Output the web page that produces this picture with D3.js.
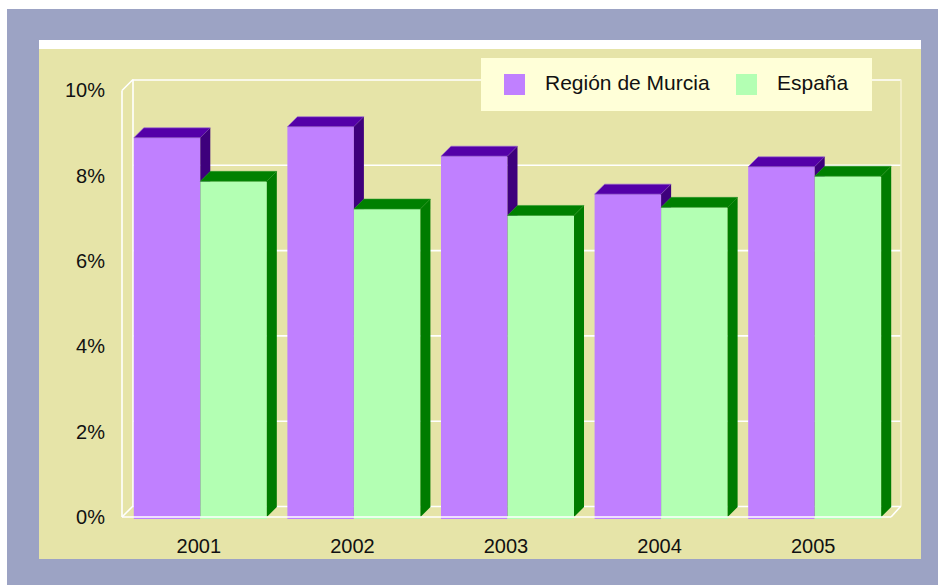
<!DOCTYPE html>
<html>
<head>
<meta charset="utf-8">
<script src="https://cdn.jsdelivr.net/npm/d3@7"></script>
<style>
  html, body { margin: 0; padding: 0; background: #ffffff; }
  svg { display: block; }
  text { font-family: "Liberation Sans", Arial, sans-serif; fill: #111; }
</style>
</head>
<body>
<script>
// ---- data ----
const categories = ["2001", "2002", "2003", "2004", "2005"];
const seriesNames = ["Región de Murcia", "España"];
const murcia = [8.89, 9.15, 8.46, 7.57, 8.21];
const espana = [7.87, 7.22, 7.07, 7.26, 7.99];
const yTicks = [0, 2, 4, 6, 8, 10];

const seriesValues = [murcia, espana];
const frontColors = ["#c080ff", "#b3ffb3"];
const topColors = ["#5400a8", "#008000"];
const sideColors = ["#3e007c", "#007c00"];
const edgeColors = ["#9a66d6", "#2f9a2f"];

const W = 938, H = 585;
const svg = d3.select("body").append("svg").attr("width", W).attr("height", H);

// backgrounds
svg.append("rect").attr("x", 7).attr("y", 9).attr("width", W - 7).attr("height", H - 9).attr("fill", "#9ca3c4");
svg.append("rect").attr("x", 39).attr("y", 40).attr("width", 882).attr("height", 519).attr("fill", "#e6e4a8");
svg.append("rect").attr("x", 39).attr("y", 40).attr("width", 882).attr("height", 9).attr("fill", "#ffffff");

// geometry
const frontLeft = 122, frontRight = 891, frontBottom = 517, frontTop = 90.5;
const depth = 11, barDepth = 10;
const yFront = d3.scaleLinear().domain([0, 10]).range([frontBottom, frontTop]);
const yBack = v => yFront(v) - depth;
const x = d3.scaleBand().domain(categories).range([123.5, 891.5]).paddingInner(0.134).paddingOuter(0.067);
const xs = d3.scaleBand().domain(seriesNames).range([0, x.bandwidth()]);

const bx0 = frontLeft + depth, bx1 = frontRight + 10;

// back wall gridlines
const gridAxis = d3.axisLeft(yFront).tickValues(yTicks).tickSize(-(bx1 - bx0)).tickFormat("");
const gridG = svg.append("g").attr("transform", `translate(${bx0},${-depth})`).call(gridAxis);
gridG.select(".domain").remove();
gridG.selectAll("line").attr("stroke", "#ffffff").attr("stroke-width", 1.6);

// back frame
const back = svg.append("g").attr("stroke", "#ffffff").attr("stroke-width", 1.6).attr("fill", "none");
back.append("line").attr("x1", bx0).attr("x2", bx0).attr("y1", yBack(10)).attr("y2", yBack(0));
back.append("line").attr("x1", bx1).attr("x2", bx1).attr("y1", yBack(10)).attr("y2", yBack(0)).attr("stroke", "#f6f2cf");
back.append("line").attr("x1", frontLeft).attr("x2", frontLeft).attr("y1", yFront(10)).attr("y2", yFront(0));
back.append("line").attr("x1", frontLeft).attr("x2", bx0).attr("y1", yFront(10)).attr("y2", yBack(10));
back.append("line").attr("x1", frontLeft).attr("x2", bx0).attr("y1", yFront(0)).attr("y2", yBack(0));
back.append("line").attr("x1", frontRight).attr("x2", bx1).attr("y1", yFront(0)).attr("y2", yBack(0));

// bars
const bars = svg.append("g");
categories.forEach((c, i) => {
  seriesNames.forEach((s, j) => {
    const v = seriesValues[j][i];
    const bx = x(c) + xs(s), bw = xs.bandwidth();
    const yt = yFront(v), yb = yFront(0), d = barDepth;
    const g = bars.append("g");
    g.append("rect").attr("x", bx).attr("y", yt).attr("width", bw).attr("height", yb - yt + 2)
      .attr("fill", frontColors[j]);
    g.append("path").attr("d", `M${bx},${yt}L${bx + d},${yt - d}L${bx + bw + d},${yt - d}L${bx + bw},${yt}Z`)
      .attr("fill", topColors[j]).attr("stroke", edgeColors[j]).attr("stroke-width", 0.6);
    g.append("path").attr("d", `M${bx + bw},${yt}L${bx + bw + d},${yt - d}L${bx + bw + d},${yb - d}L${bx + bw},${yb}Z`)
      .attr("fill", sideColors[j]);
  });
});

// front bottom edge
svg.append("line").attr("x1", frontLeft).attr("x2", frontRight).attr("y1", frontBottom).attr("y2", frontBottom)
  .attr("stroke", "#ffffff").attr("stroke-width", 1.6);

// y axis labels
const yAxis = d3.axisLeft(yFront).tickValues(yTicks).tickSize(0).tickPadding(0).tickFormat(d => d + "%");
const yG = svg.append("g").attr("transform", "translate(105,0)").call(yAxis);
yG.select(".domain").remove();
yG.selectAll("text").attr("font-size", 20).attr("font-family", "Liberation Sans, Arial, sans-serif").attr("fill", "#111");

// x axis labels
const xAxis = d3.axisBottom(x).tickSize(0).tickPadding(0);
const xG = svg.append("g").attr("transform", `translate(-1.5,${frontBottom})`).call(xAxis);
xG.select(".domain").remove();
xG.selectAll("text").attr("font-size", 20).attr("font-family", "Liberation Sans, Arial, sans-serif")
  .attr("fill", "#111").attr("dy", null).attr("y", 36);

// legend
const lg = svg.append("g");
lg.append("rect").attr("x", 481).attr("y", 58).attr("width", 391).attr("height", 53).attr("fill", "#ffffd8");
const legendX = [504, 736];
seriesNames.forEach((s, j) => {
  lg.append("rect").attr("x", legendX[j]).attr("y", 74).attr("width", 21).attr("height", 21).attr("fill", frontColors[j]);
  lg.append("text").attr("x", legendX[j] + 41).attr("y", 90).attr("font-size", 21).text(s);
});
</script>
</body>
</html>
